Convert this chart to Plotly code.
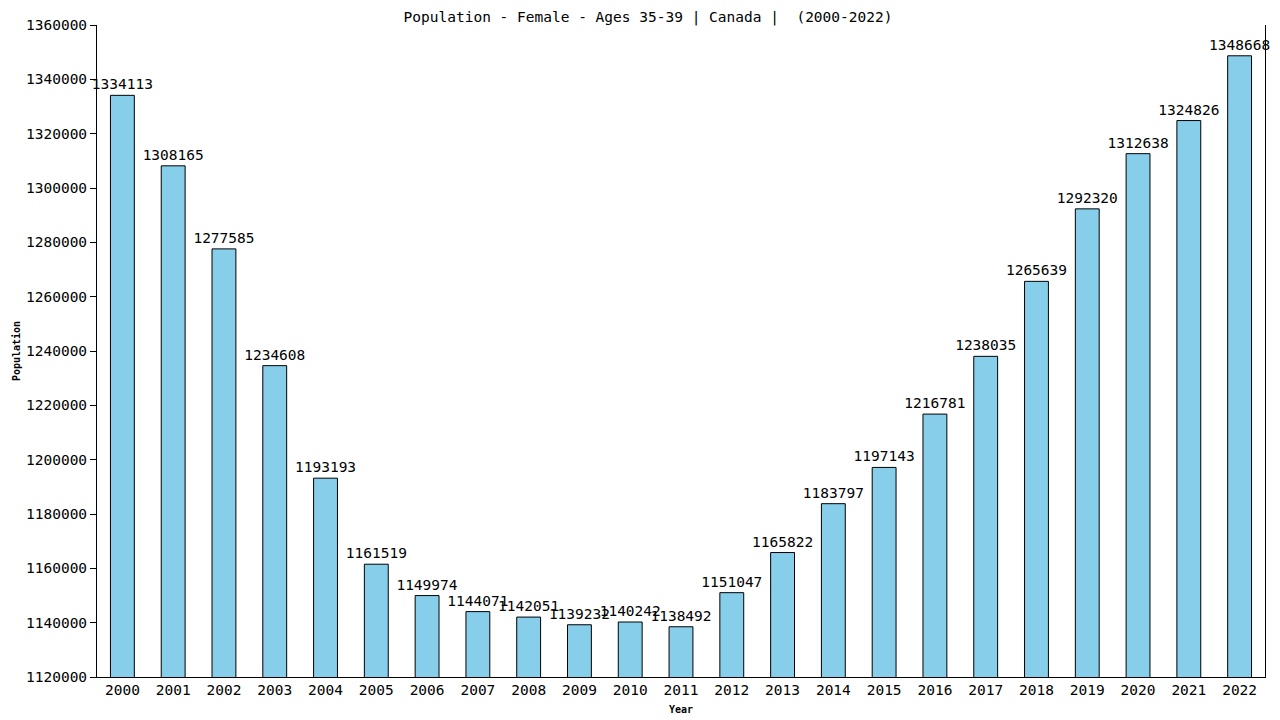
import plotly.graph_objects as go

years = [str(y) for y in range(2000, 2023)]
population = [1334113, 1308165, 1277585, 1234608, 1193193, 1161519, 1149974,
              1144071, 1142051, 1139232, 1140242, 1138492, 1151047, 1165822,
              1183797, 1197143, 1216781, 1238035, 1265639, 1292320, 1312638,
              1324826, 1348668]
y_ticks = list(range(1120000, 1360001, 20000))

mono = "DejaVu Sans Mono"

fig = go.Figure()
fig.add_trace(go.Bar(
    x=years, y=population,
    width=0.47,
    marker=dict(color="#87CEEB", line=dict(color="black", width=1)),
    text=[str(v) for v in population],
    textposition="outside",
    constraintext="none",
    textfont=dict(family=mono, size=14.5, color="black"),
    cliponaxis=False,
))

# page body adds an 8px offset, margins are set to compensate
fig.update_layout(
    width=1280, height=720,
    paper_bgcolor="white", plot_bgcolor="white",
    margin=dict(l=89, r=23, t=17, b=51, autoexpand=False),
    showlegend=False,
    font=dict(family=mono, size=14.5, color="black"),
    title=dict(text="Population - Female - Ages 35-39 | Canada |  (2000-2022)",
               x=0.5, xanchor="center", y=0.9945, yanchor="top",
               pad=dict(t=0, b=0),
               font=dict(family=mono, size=14.5), automargin=False),
)
fig.update_xaxes(
    showline=True, linecolor="black", linewidth=1,
    ticks="", showgrid=False, automargin=False,
    title=dict(text="<b>Year</b>", font=dict(family=mono, size=10), standoff=8),
)
fig.update_yaxes(
    range=[1120000, 1360000], tickvals=y_ticks,
    ticktext=[str(v) for v in y_ticks],
    showline=True, linecolor="black", linewidth=1, mirror=True,
    ticks="outside", ticklen=6, tickcolor="black",
    showgrid=False, zeroline=False, automargin=False,
    title=dict(text="<b>Population</b>", font=dict(family=mono, size=10), standoff=3),
)

fig.write_html("out.html")
